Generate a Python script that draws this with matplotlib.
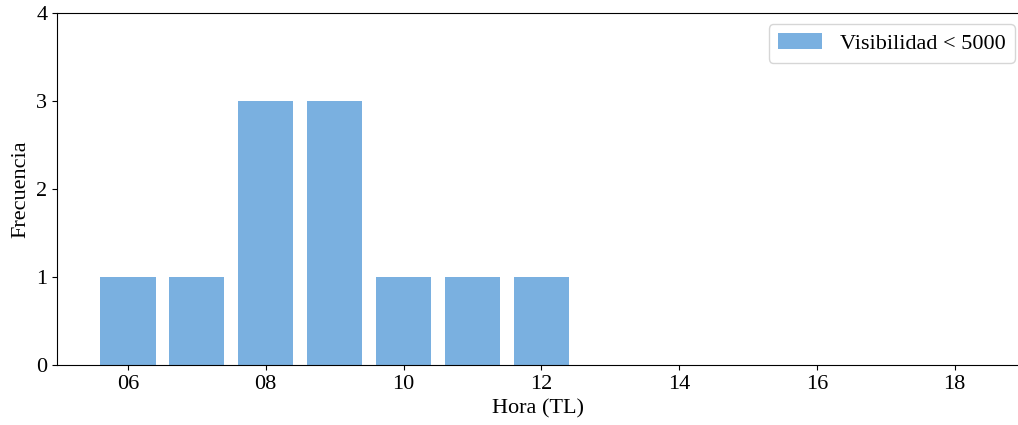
import matplotlib.pyplot as plt

plt.rcParams['font.family'] = ['Liberation Serif', 'DejaVu Serif']

horas = [6, 7, 8, 9, 10, 11, 12, 13, 14, 15, 16, 17, 18]
frecuencia = [1, 1, 3, 3, 1, 1, 1, 0, 0, 0, 0, 0, 0]
ticks = [6, 8, 10, 12, 14, 16, 18]
tick_labels = ['06', '08', '10', '12', '14', '16', '18']

fig = plt.figure(figsize=(10.18, 4.25), dpi=100)
ax = fig.add_axes([0.056, 0.141, 0.944, 0.828])

ax.bar(horas, frecuencia, width=0.8, color='#7AB0E0', label='Visibilidad < 5000')

ax.set_xlim(4.97, 18.92)
ax.set_ylim(0, 4)
ax.set_xticks(ticks)
ax.set_xticklabels(tick_labels)
ax.set_yticks([0, 1, 2, 3, 4])
ax.tick_params(axis='both', labelsize=16)
ax.spines['right'].set_visible(False)

ax.set_xlabel('Hora (TL)', fontsize=16)
ax.set_ylabel('Frecuencia', fontsize=16)
ax.legend(loc='upper right', bbox_to_anchor=(1.008, 1.0), fontsize=16)

fig.savefig('out.png', dpi=100)
